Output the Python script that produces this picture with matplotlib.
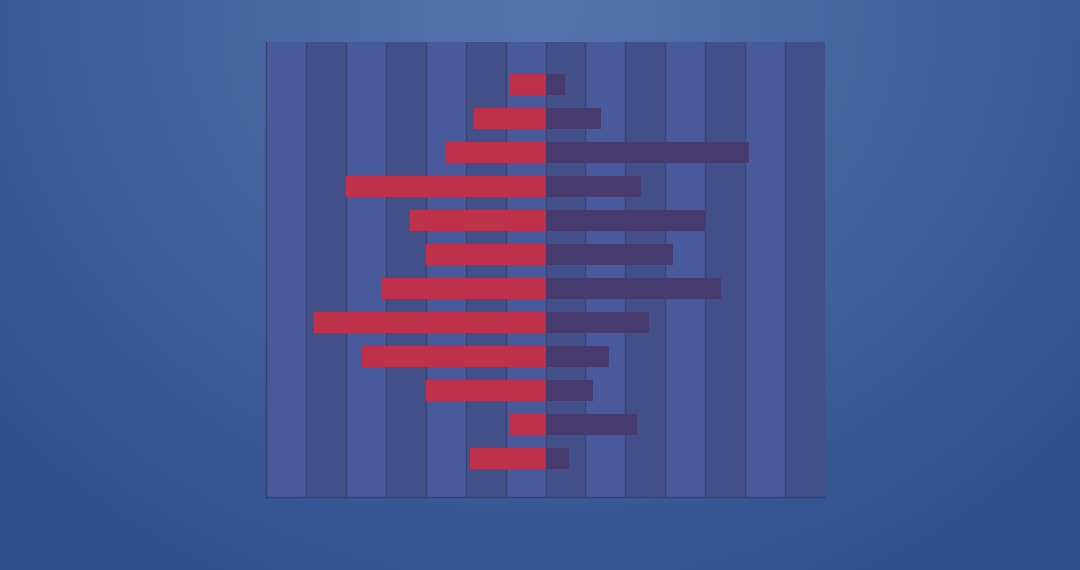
import numpy as np
import matplotlib
matplotlib.use("Agg")
import matplotlib.pyplot as plt

# mirrored bar values, one column of the stripe grid = 10 units
rows = list(range(12))
left_vals = [-9, -18, -25, -50, -34, -30, -41, -58, -46, -30, -9, -19]
right_vals = [5, 14, 51, 24, 40, 32, 44, 26, 16, 12, 23, 6]
x_edges = list(range(-70, 71, 10))

RED = "#bf314b"
PURPLE = "#463a6e"
STRIPE_LIGHT = "#48599c"
STRIPE_DARK = "#434f88"
GRID = "#394474"

fig = plt.figure(figsize=(10.8, 5.7), dpi=100)

# radial background, lighter near top centre
bg = fig.add_axes([0, 0, 1, 1])
yy, xx = np.mgrid[0:570, 0:1080]
r = np.sqrt(((xx - 540) / 760.0) ** 2 + ((yy - 10) / 680.0) ** 2)
r = np.clip(r, 0, 1)
c0 = np.array([0x56, 0x75, 0xae]) / 255.0
c1 = np.array([0x2e, 0x4f, 0x8c]) / 255.0
img = c0[None, None, :] * (1 - r[..., None]) + c1[None, None, :] * r[..., None]
bg.imshow(img, aspect="auto", extent=[0, 1, 0, 1])
bg.axis("off")

ax = fig.add_axes([266 / 1080, 1 - 497 / 570, 559 / 1080, 455 / 570])
ax.set_facecolor("none")
for i in range(len(x_edges) - 1):
    ax.axvspan(x_edges[i], x_edges[i + 1], color=STRIPE_LIGHT if i % 2 == 0 else STRIPE_DARK,
               linewidth=0, zorder=0)
for x in x_edges[1:-1]:
    ax.axvline(x, color=GRID, linewidth=0.9, zorder=1)

ax.barh(rows, left_vals, height=0.62, color=RED, zorder=3)
ax.barh(rows, right_vals, height=0.62, color=PURPLE, zorder=3)

ax.set_xlim(-70, 70)
ax.set_ylim(12.12, -1.26)
ax.set_xticks([])
ax.set_yticks([])
for side in ["top", "right"]:
    ax.spines[side].set_visible(False)
for side in ["left", "bottom"]:
    ax.spines[side].set_color("#37406a")
    ax.spines[side].set_linewidth(1.0)

fig.savefig("out.png", dpi=100)
